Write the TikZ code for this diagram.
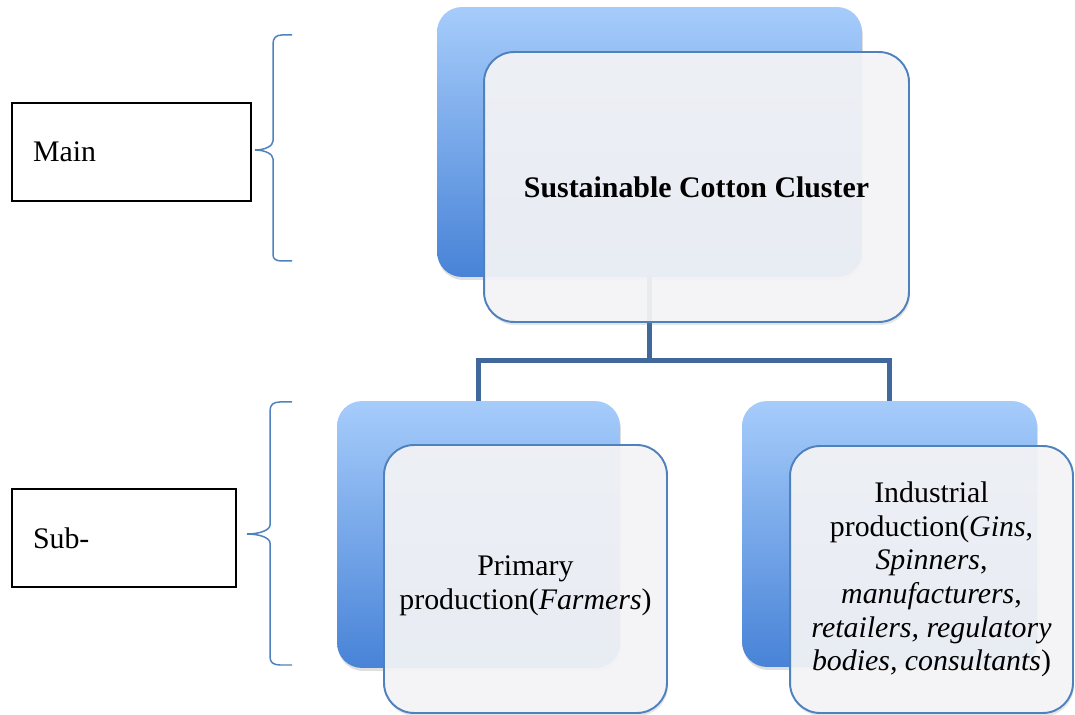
\documentclass[tikz,border=0pt]{standalone}
\usepackage{fontspec}
\setmainfont{Liberation Serif}
\usepackage{tikz}
\usetikzlibrary{shadows,positioning}

\begin{document}
\begin{tikzpicture}[x=0.02cm,y=-0.02cm,
  every node/.style={font=\fontsize{17}{19.1}\selectfont},
  back/.style={rounded corners=0.5cm,draw=none,top color=cbt,bottom color=cbb,
    drop shadow={opacity=0.25,shadow xshift=0.02cm,shadow yshift=-0.06cm}},
  front/.style={rounded corners=0.6cm,draw=cfr,line width=1.1pt,fill=cff,fill opacity=0.92,
    text opacity=1,align=center,
    drop shadow={opacity=0.2,shadow xshift=0.02cm,shadow yshift=-0.06cm}},
  link/.style={draw=clk,line width=0.1cm},
  brc/.style={draw=cbr,line width=0.85pt},
  lbl/.style={draw=black,line width=0.8pt,align=left,inner xsep=0.42cm,minimum height=1.96cm}]
%
\useasboundingbox (0,0) rectangle (1075,715);
%
\definecolor{cbt}{RGB}{166,204,251}
\definecolor{cbb}{RGB}{72,131,215}
\definecolor{cff}{RGB}{245,245,247}
\definecolor{cfr}{RGB}{79,129,189}
\definecolor{clk}{RGB}{65,104,155}
\definecolor{cbr}{RGB}{79,129,189}
%
% back plates
\node[back,minimum width=8.5cm,minimum height=5.4cm] (clusterB) at (649.5,142) {};
\node[back,minimum width=5.66cm,minimum height=5.34cm] (primB) at (478.5,534.5) {};
\node[back,minimum width=5.9cm,minimum height=5.32cm] (indB) at (889.5,534) {};
%
% tree links
\coordinate (bus) at (649.5,361);
\draw[link] (clusterB.south) -- (bus);
\draw[link] (bus) -| (primB.north);
\draw[link] (bus) -| (indB.north);
%
% front cards
\node[front,minimum width=8.5cm,minimum height=5.4cm] (clusterF) at (696.5,187) {\textbf{Sustainable Cotton Cluster}};
\node[front,minimum width=5.66cm,minimum height=5.36cm] (primF) at (525.5,579) {\rule{0pt}{18.8pt}Primary\\production(\textit{Farmers})};
\node[front,minimum width=5.66cm,minimum height=5.34cm] (indF) at (931.5,579.5) {Industrial\\production(\textit{Gins},\\\textit{Spinners},\\\textit{manufacturers},\\\textit{retailers, regulatory}\\\textit{bodies, consultants})};
%
% level labels
\node[lbl,text width=3.94cm] (main) at (131.5,152) {Main};
\node[lbl,text width=3.64cm] (sub) at (124,538) {Sub-};
%
% braces
\coordinate (mainTop) at (292,35);
\coordinate (mainBot) at (292,261);
\draw[brc] (mainTop) -- (282,35) .. controls (276,35) and (273,38) .. (273,44) -- (273,141)
  .. controls (273,146) and (265,150) .. (255,150) .. controls (265,150) and (273,154) .. (273,159)
  -- (273,255) .. controls (273,259) and (276,261) .. (282,261) -- (mainBot);
\coordinate (subTop) at (292,402);
\coordinate (subBot) at (292,665);
\draw[brc] (subTop) -- (280,402) .. controls (273,402) and (270,405) .. (270,411) -- (270,525)
  .. controls (270,530) and (260,534) .. (247,534) .. controls (260,534) and (270,538) .. (270,543)
  -- (270,657) .. controls (270,662) and (273,665) .. (280,665) -- (subBot);
%
\end{tikzpicture}
\end{document}
